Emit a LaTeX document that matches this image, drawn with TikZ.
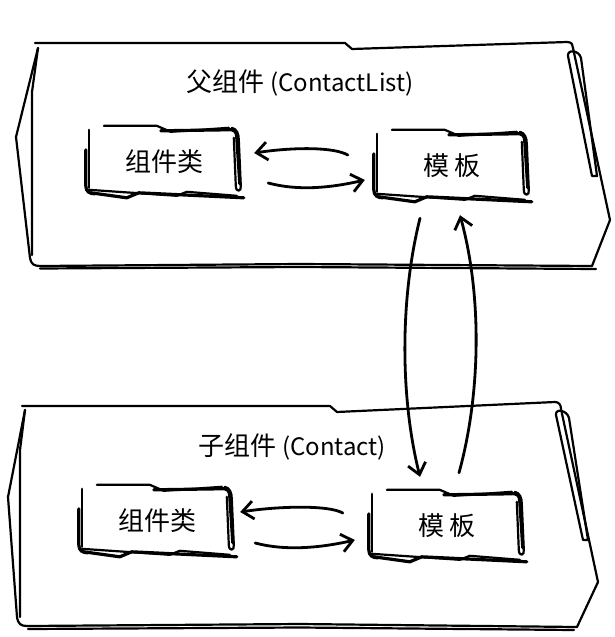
\documentclass[tikz,border=0pt]{standalone}
\usepackage{fontspec}
\newfontfamily\cjk{Noto Sans CJK SC}
\usetikzlibrary{arrows.meta}

\tikzset{
  pen/.style={line width=2.2pt, line join=round, line cap=round},
  heavy/.style={pen, line width=3.2pt},
  flow/.style={pen, line width=2.8pt, -{Straight Barb[length=11pt,width=18pt]}},
  part/.style={inner sep=0pt, minimum width=154pt, minimum height=72pt,
    font=\cjk\fontsize{26}{30}\selectfont},
  caption/.style={font=\cjk\fontsize{26}{30}\selectfont},
}

% rough outline round a part node
\newcommand{\sketchbox}[1]{%
  \begin{scope}[shift={(#1.north west)}]
    \draw[pen] (17,0) -- (70,0) -- (84,6) -- (142,2);
    \draw[heavy] (74,5) -- (140,4) .. controls (148,3) and (150,6) .. (150,12) -- (153,58);
    \draw[pen] (145,2) .. controls (150,3) and (152,8) .. (152,14) -- (154,60)
      .. controls (155,66) and (149,67) .. (149,60) -- (147,12);
    \draw[pen] (2,4) -- (2,62);
    \draw[heavy] (-1,24) -- (-1,60) .. controls (-1,66) and (3,68) .. (8,68);
    \draw[heavy] (4,67) -- (40,72) -- (52,67) -- (157,72);
    \draw[pen] (2,64) -- (90,70) -- (100,66) -- (150,70);
  \end{scope}}

\begin{document}
\begin{tikzpicture}[x=1pt, y=-1pt]
  \useasboundingbox (0,0) rectangle (615,637);

  % parent component
  \draw[pen] (35,43) -- (345,43) -- (352,49) -- (567,42)
    .. controls (572,42) and (573,45) .. (573,48) -- (610,220) -- (592,266);
  \draw[pen] (38,48) -- (16,137) -- (30,258) .. controls (31,264) and (34,266) .. (40,266)
    -- (300,264) -- (592,266);
  \draw[pen] (38,48) -- (32,92) -- (32,255);
  \draw[pen] (40,268.5) -- (300,267) -- (596,269);
  \draw[pen] (568,56) -- (592,176) -- (597,176) -- (581,58) .. controls (579,50) and (567,49) .. (568,56);
  \node[caption] (title1) at (300,83) {父组件 {\fontsize{24}{28}\selectfont (ContactList)}};
  \node[part] (cls1) at (164,162) {组件类};
  \node[part] (tpl1) at (452,166) {模 板};
  \sketchbox{cls1}
  \sketchbox{tpl1}

  % child component
  \draw[pen] (22,406) -- (330,406) -- (337,412) -- (555,402)
    .. controls (559,402) and (561,405) .. (561,409) -- (598,582) -- (577,627);
  \draw[pen] (25,410) -- (8,497) -- (17,617) .. controls (18,624) and (21,626) .. (27,626)
    -- (300,624) -- (577,627);
  \draw[pen] (25,410) -- (20,450) -- (20,617);
  \draw[pen] (28,629) -- (300,627.5) -- (574,630);
  \draw[pen] (556,415) -- (583,540) -- (588,540) -- (569,418) .. controls (567,410) and (555,408) .. (556,415);
  \node[caption] (title2) at (292,447) {子组件 {\fontsize{24}{28}\selectfont (Contact)}};
  \node[part] (cls2) at (157,521) {组件类};
  \node[part] (tpl2) at (447,526) {模 板};
  \sketchbox{cls2}
  \sketchbox{tpl2}

  % connectors
  \draw[flow] ([shift={(-27,-11)}]tpl1.west) .. controls +(-14,-8) and +(40,-6) .. ([shift={(13,-9)}]cls1.east);
  \draw[flow] ([shift={(27,21)}]cls1.east) .. controls +(30,8) and +(-35,8) .. ([shift={(-10,14)}]tpl1.west);
  \draw[flow] ([shift={(-27,-13)}]tpl2.west) .. controls +(-14,-8) and +(40,-6) .. ([shift={(6,-9)}]cls2.east);
  \draw[flow] ([shift={(21,22)}]cls2.east) .. controls +(30,8) and +(-35,8) .. ([shift={(-15,14)}]tpl2.west);
  \draw[flow] ([shift={(-32,16)}]tpl1.south) .. controls +(-20,80) and +(-20,-80) .. ([shift={(-27,-13)}]tpl2.north);
  \draw[flow] ([shift={(12,-17)}]tpl2.north) .. controls +(22,-80) and +(22,80) .. ([shift={(8,13)}]tpl1.south);
\end{tikzpicture}
\end{document}
